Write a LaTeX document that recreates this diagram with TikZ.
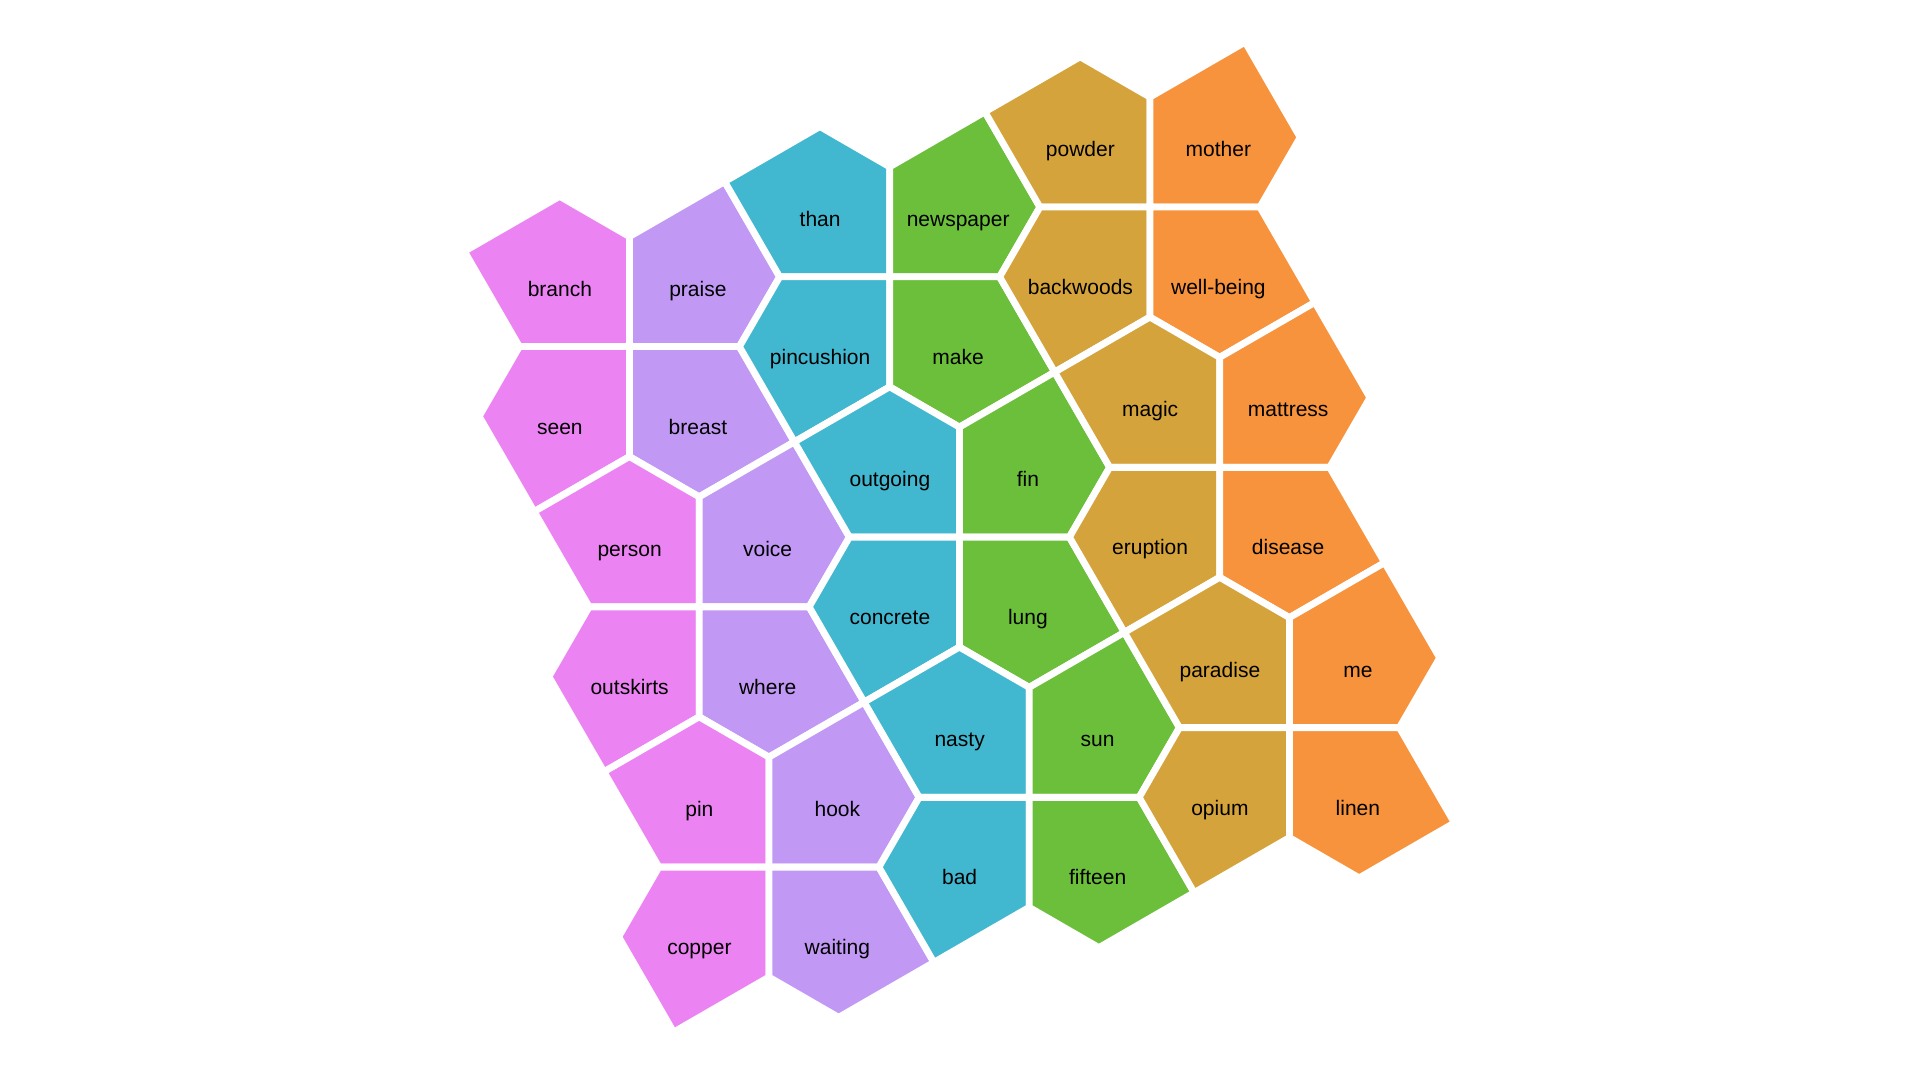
\documentclass[tikz,border=0pt]{standalone}
\usepackage{fontspec}
\setmainfont{Liberation Sans}
\definecolor{tilePink}{RGB}{236,131,243}
\definecolor{tilePurple}{RGB}{193,153,245}
\definecolor{tileCyan}{RGB}{65,184,208}
\definecolor{tileGreen}{RGB}{108,191,58}
\definecolor{tileGold}{RGB}{213,163,59}
\definecolor{tileOrange}{RGB}{247,147,60}
\usepackage{tikz}

\begin{document}
\begin{tikzpicture}[x=0.5pt, y=-0.5pt,
  tile/.style={draw=white, line width=3.4pt},
  word/.style={anchor=base, font=\fontsize{10.5}{12}\selectfont}
]
  \useasboundingbox (0,0) rectangle (1920,1080);
  % one cluster = four pentagons round a cross
  \foreach \i/\j/\ul/\ur/\dl/\dr/\lc/\rc in {
      0/0/branch/praise/seen/breast/tilePink/tilePurple,
      1/0/person/voice/outskirts/where/tilePink/tilePurple,
      2/0/pin/hook/copper/waiting/tilePink/tilePurple,
      0/1/than/newspaper/pincushion/make/tileCyan/tileGreen,
      1/1/outgoing/fin/concrete/lung/tileCyan/tileGreen,
      2/1/nasty/sun/bad/fifteen/tileCyan/tileGreen,
      0/2/powder/mother/backwoods/well-being/tileGold/tileOrange,
      1/2/magic/mattress/eruption/disease/tileGold/tileOrange,
      2/2/paradise/me/opium/linen/tileGold/tileOrange}
  {
    \pgfmathsetmacro\cx{629.4+69.75*\i+260.25*\j}
    \pgfmathsetmacro\cy{346.6+260.25*\i-69.75*\j}
    \begin{scope}[shift={(\cx,\cy)}]
      \filldraw[tile, fill=\lc] (0,0) -- (0,-110) -- (-69.74,-150.26) -- (-165,-95.26) -- (-110,0) -- cycle;
      \filldraw[tile, fill=\rc] (0,0) -- (110,0) -- (150.26,-69.74) -- (95.26,-165) -- (0,-110) -- cycle;
      \filldraw[tile, fill=\lc] (0,0) -- (-110,0) -- (-150.26,69.74) -- (-95.26,165) -- (0,110) -- cycle;
      \filldraw[tile, fill=\rc] (0,0) -- (0,110) -- (69.74,150.26) -- (165,95.26) -- (110,0) -- cycle;
      \node[word] (\ul) at (-69.5,-50.5) {\ul};
      \node[word] (\ur) at (68.5,-50.5)  {\ur};
      \node[word] (\dl) at (-69.5,87.5)  {\dl};
      \node[word] (\dr) at (68.5,87.5)   {\dr};
    \end{scope}
  }
\end{tikzpicture}
\end{document}
